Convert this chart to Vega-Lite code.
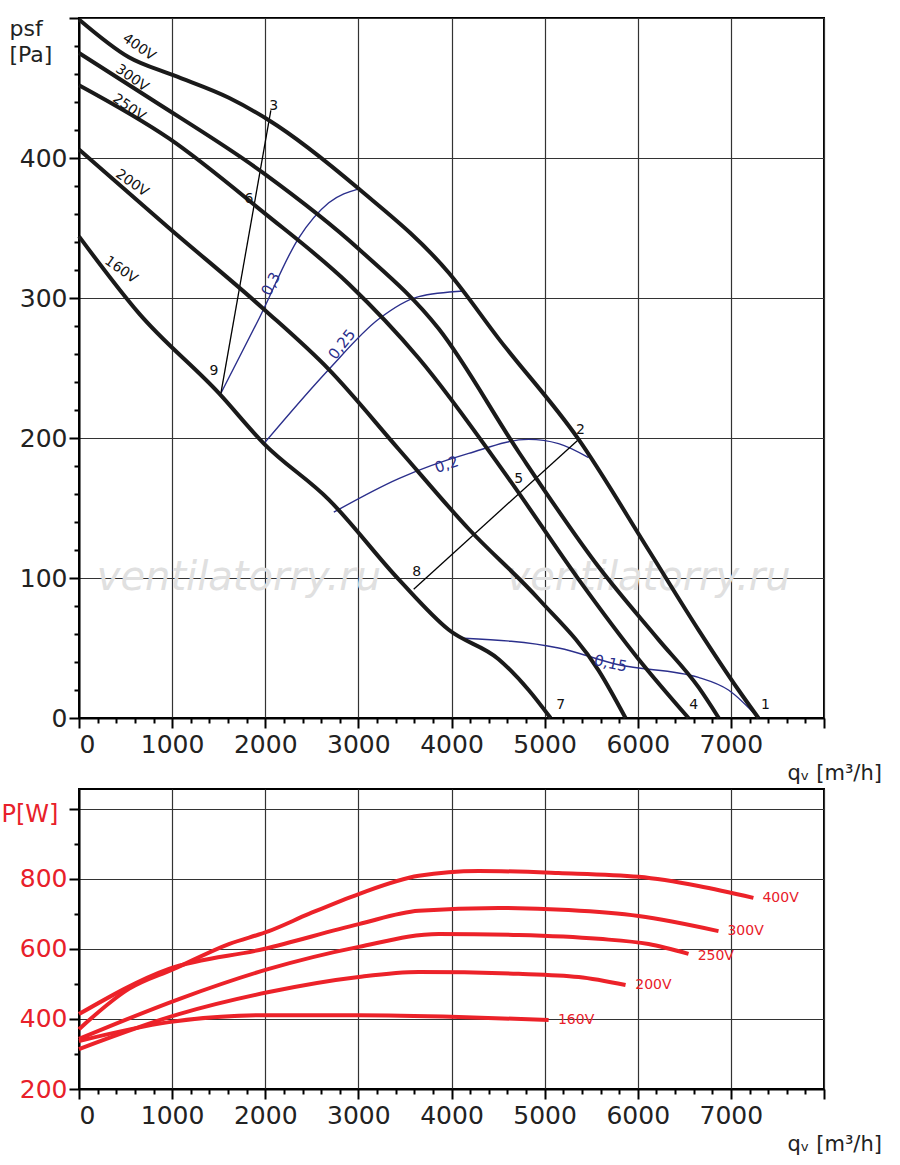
{
"$schema":"https://vega.github.io/schema/vega-lite/v6.json",
"autosize":{"type":"pad"},
"padding":{"left":0,"top":10,"right":5,"bottom":5},
"background":"white",
"config":{"font":"DejaVu Sans","view":{"stroke":"black","strokeWidth":2},
"axis":{"domainColor":"black","domainWidth":2,"tickColor":"black","tickWidth":2,"gridColor":"#333","gridWidth":1.2,"labelFont":"DejaVu Sans","labelFontSize":25,"labelColor":"#222","titleFont":"DejaVu Sans","titleFontWeight":"normal"}},
"spacing":4,
"datasets":{
"fan":[
{"s":"400V","x":0,"y":499},{"s":"400V","x":536,"y":472},{"s":"400V","x":1019,"y":459},{"s":"400V","x":1609,"y":443},{"s":"400V","x":2039,"y":427},{"s":"400V","x":3004,"y":378},{"s":"400V","x":3970,"y":318},{"s":"400V","x":4506,"y":271},{"s":"400V","x":5365,"y":199},{"s":"400V","x":6116,"y":120},{"s":"400V","x":6652,"y":63},{"s":"400V","x":7082,"y":20},{"s":"400V","x":7296,"y":0},
{"s":"300V","x":0,"y":475},{"s":"300V","x":751,"y":443},{"s":"300V","x":1985,"y":389},{"s":"300V","x":3004,"y":335},{"s":"300V","x":3863,"y":278},{"s":"300V","x":4721,"y":190},{"s":"300V","x":5579,"y":108},{"s":"300V","x":6223,"y":56},{"s":"300V","x":6652,"y":22},{"s":"300V","x":6870,"y":0},
{"s":"250V","x":0,"y":452},{"s":"250V","x":966,"y":414},{"s":"250V","x":1985,"y":361},{"s":"250V","x":2897,"y":310},{"s":"250V","x":3648,"y":257},{"s":"250V","x":4614,"y":171},{"s":"250V","x":5365,"y":99},{"s":"250V","x":6009,"y":42},{"s":"250V","x":6545,"y":0},
{"s":"200V","x":0,"y":406},{"s":"200V","x":966,"y":350},{"s":"200V","x":1985,"y":292},{"s":"200V","x":2682,"y":249},{"s":"200V","x":3433,"y":192},{"s":"200V","x":4185,"y":135},{"s":"200V","x":4936,"y":85},{"s":"200V","x":5579,"y":34},{"s":"200V","x":5869,"y":0},
{"s":"160V","x":0,"y":344},{"s":"160V","x":644,"y":289},{"s":"160V","x":1502,"y":232},{"s":"160V","x":1985,"y":196},{"s":"160V","x":2682,"y":156},{"s":"160V","x":3433,"y":99},{"s":"160V","x":3970,"y":63},{"s":"160V","x":4506,"y":42},{"s":"160V","x":4828,"y":20},{"s":"160V","x":5064,"y":0}],
"eff":[
{"e":"0,3","x":1524,"y":232},{"e":"0,3","x":1931,"y":285},{"e":"0,3","x":2361,"y":343},{"e":"0,3","x":2682,"y":368},{"e":"0,3","x":3004,"y":378},
{"e":"0,25","x":1985,"y":196},{"e":"0,25","x":2682,"y":249},{"e":"0,25","x":3219,"y":285},{"e":"0,25","x":3648,"y":301},{"e":"0,25","x":4131,"y":305},
{"e":"0,2","x":2736,"y":147},{"e":"0,2","x":3433,"y":171},{"e":"0,2","x":4185,"y":189},{"e":"0,2","x":4828,"y":199},{"e":"0,2","x":5150,"y":196},{"e":"0,2","x":5472,"y":186},
{"e":"0,15","x":4131,"y":57},{"e":"0,15","x":5150,"y":50},{"e":"0,15","x":5794,"y":38},{"e":"0,15","x":6652,"y":29},{"e":"0,15","x":6974,"y":20},{"e":"0,15","x":7296,"y":0}],
"sys":[{"l":"a","x":1524,"y":232},{"l":"a","x":2060,"y":434},{"l":"b","x":3594,"y":92},{"l":"b","x":5365,"y":199}],
"pow":[
{"s":"400V","x":0,"y":371},{"s":"400V","x":536,"y":486},{"s":"400V","x":1019,"y":543},{"s":"400V","x":1609,"y":614},{"s":"400V","x":2039,"y":651},{"s":"400V","x":2468,"y":700},{"s":"400V","x":3004,"y":757},{"s":"400V","x":3648,"y":809},{"s":"400V","x":4292,"y":823},{"s":"400V","x":5150,"y":817},{"s":"400V","x":6009,"y":806},{"s":"400V","x":6652,"y":780},{"s":"400V","x":7242,"y":746},
{"s":"300V","x":0,"y":414},{"s":"300V","x":966,"y":543},{"s":"300V","x":1985,"y":600},{"s":"300V","x":3004,"y":671},{"s":"300V","x":3648,"y":709},{"s":"300V","x":4506,"y":717},{"s":"300V","x":5258,"y":711},{"s":"300V","x":6009,"y":694},{"s":"300V","x":6867,"y":651},
{"s":"250V","x":0,"y":343},{"s":"250V","x":1073,"y":457},{"s":"250V","x":2039,"y":543},{"s":"250V","x":3004,"y":606},{"s":"250V","x":3863,"y":643},{"s":"250V","x":4721,"y":640},{"s":"250V","x":5579,"y":629},{"s":"250V","x":6116,"y":614},{"s":"250V","x":6545,"y":586},
{"s":"200V","x":0,"y":314},{"s":"200V","x":1073,"y":414},{"s":"200V","x":2039,"y":477},{"s":"200V","x":3004,"y":520},{"s":"200V","x":3648,"y":534},{"s":"200V","x":4721,"y":529},{"s":"200V","x":5365,"y":520},{"s":"200V","x":5869,"y":497},
{"s":"160V","x":0,"y":337},{"s":"160V","x":966,"y":391},{"s":"160V","x":1985,"y":411},{"s":"160V","x":3004,"y":411},{"s":"160V","x":4077,"y":406},{"s":"160V","x":5043,"y":397}]
},
"vconcat":[
{"width":745,"height":700,
"encoding":{
"x":{"field":"x","type":"quantitative","scale":{"domain":[0,8000],"nice":false},"axis":{"values":[0,200,400,600,800,1000,1200,1400,1600,1800,2000,2200,2400,2600,2800,3000,3200,3400,3600,3800,4000,4200,4400,4600,4800,5000,5200,5400,5600,5800,6000,6200,6400,6600,6800,7000,7200,7400,7600,7800,8000],"labelExpr":"datum.value % 1000 === 0 && datum.value < 8000 ? datum.value : ''","tickSize":{"condition":{"test":"datum.value % 1000 === 0","value":10},"value":5},"gridOpacity":{"condition":{"test":"datum.value % 1000 === 0","value":1},"value":0},"labelPadding":4,"title":"qᵥ [m³/h]","titleFontSize":21,"titleAlign":"left","titleAnchor":"start","titleX":708,"titleY":44,"titleColor":"#222"}},
"y":{"field":"y","type":"quantitative","scale":{"domain":[0,500],"nice":false},"axis":{"values":[0,20,40,60,80,100,120,140,160,180,200,220,240,260,280,300,320,340,360,380,400,420,440,460,480,500],"labelExpr":"datum.value % 100 === 0 && datum.value < 500 ? datum.value : ''","tickSize":{"condition":{"test":"datum.value % 100 === 0","value":10},"value":5},"gridOpacity":{"condition":{"test":"datum.value % 100 === 0","value":1},"value":0},"title":["psf","[Pa]"],"titleFontSize":22,"titleAngle":0,"titleAlign":"left","titleX":-70,"titleY":0,"titleBaseline":"top","titleLineHeight":26,"titleColor":"#222"}}},
"layer":[
{"data":{"values":[{"x":1717,"y":100,"t":"ventilatorry.ru"},{"x":6116,"y":100,"t":"ventilatorry.ru"}]},"mark":{"type":"text","fontSize":40,"fontStyle":"italic","color":"#e0e0e0","baseline":"middle"},"encoding":{"text":{"field":"t"}}},
{"data":{"name":"eff"},"mark":{"type":"line","color":"#2b2f8c","strokeWidth":1.4,"interpolate":"monotone"},"encoding":{"detail":{"field":"e"}}},
{"data":{"name":"sys"},"mark":{"type":"line","color":"black","strokeWidth":1.3},"encoding":{"detail":{"field":"l"}}},
{"data":{"name":"fan"},"mark":{"type":"line","color":"#1a1a1a","strokeWidth":4,"interpolate":"monotone"},"encoding":{"detail":{"field":"s"}}},
{"data":{"values":[{"x":644,"y":479,"t":"400V"},{"x":569,"y":457,"t":"300V"},{"x":536,"y":436,"t":"250V"},{"x":569,"y":382,"t":"200V"},{"x":451,"y":320,"t":"160V"}]},"mark":{"type":"text","fontSize":14,"angle":35,"color":"#111"},"encoding":{"text":{"field":"t"}}},
{"data":{"values":[{"x":2092,"y":437,"t":"3"},{"x":1824,"y":371,"t":"6"},{"x":1449,"y":248,"t":"9"},{"x":5386,"y":206,"t":"2"},{"x":4721,"y":171,"t":"5"},{"x":3627,"y":104,"t":"8"},{"x":5172,"y":9,"t":"7"},{"x":6600,"y":9,"t":"4"},{"x":7371,"y":9,"t":"1"}]},"mark":{"type":"text","fontSize":14,"color":"#111"},"encoding":{"text":{"field":"t"}}},
{"data":{"values":[{"x":2060,"y":310,"t":"0,3"}]},"mark":{"type":"text","fontSize":15,"angle":-62,"color":"#2b2f8c"},"encoding":{"text":{"field":"t"}}},
{"data":{"values":[{"x":2822,"y":267,"t":"0,25"}]},"mark":{"type":"text","fontSize":15,"angle":-52,"color":"#2b2f8c"},"encoding":{"text":{"field":"t"}}},
{"data":{"values":[{"x":3948,"y":181,"t":"0,2"}]},"mark":{"type":"text","fontSize":15,"angle":-18,"color":"#2b2f8c"},"encoding":{"text":{"field":"t"}}},
{"data":{"values":[{"x":5708,"y":39,"t":"0,15"}]},"mark":{"type":"text","fontSize":15,"angle":12,"color":"#2b2f8c"},"encoding":{"text":{"field":"t"}}}
]},
{"width":745,"height":300,
"encoding":{
"x":{"field":"x","type":"quantitative","scale":{"domain":[0,8000],"nice":false},"axis":{"values":[0,200,400,600,800,1000,1200,1400,1600,1800,2000,2200,2400,2600,2800,3000,3200,3400,3600,3800,4000,4200,4400,4600,4800,5000,5200,5400,5600,5800,6000,6200,6400,6600,6800,7000,7200,7400,7600,7800,8000],"labelExpr":"datum.value % 1000 === 0 && datum.value < 8000 ? datum.value : ''","tickSize":{"condition":{"test":"datum.value % 1000 === 0","value":10},"value":5},"gridOpacity":{"condition":{"test":"datum.value % 1000 === 0","value":1},"value":0},"labelPadding":4,"title":"qᵥ [m³/h]","titleFontSize":21,"titleAlign":"left","titleAnchor":"start","titleX":708,"titleY":44,"titleColor":"#222"}},
"y":{"field":"y","type":"quantitative","scale":{"domain":[200,1057],"nice":false,"zero":false},"axis":{"values":[200,300,400,500,600,700,800,900,1000],"labelExpr":"datum.value % 200 === 0 && datum.value < 1000 ? datum.value : ''","labelColor":"#e8202a","tickSize":{"condition":{"test":"datum.value % 200 === 0","value":10},"value":5},"gridOpacity":{"condition":{"test":"datum.value % 200 === 0","value":1},"value":0},"title":"P[W]","titleColor":"#e8202a","titleFontSize":24,"titleAngle":0,"titleAlign":"left","titleX":-78,"titleY":32,"titleBaseline":"alphabetic"}}},
"layer":[
{"data":{"name":"pow"},"mark":{"type":"line","color":"#ec2229","strokeWidth":4,"interpolate":"monotone"},"encoding":{"detail":{"field":"s"}}},
{"data":{"values":[{"x":7296,"y":746,"t":"400V"},{"x":6920,"y":651,"t":"300V"},{"x":6600,"y":580,"t":"250V"},{"x":5930,"y":497,"t":"200V"},{"x":5100,"y":397,"t":"160V"}]},"mark":{"type":"text","fontSize":14,"align":"left","color":"#e8202a","dx":4},"encoding":{"text":{"field":"t"}}}
]}
]}
